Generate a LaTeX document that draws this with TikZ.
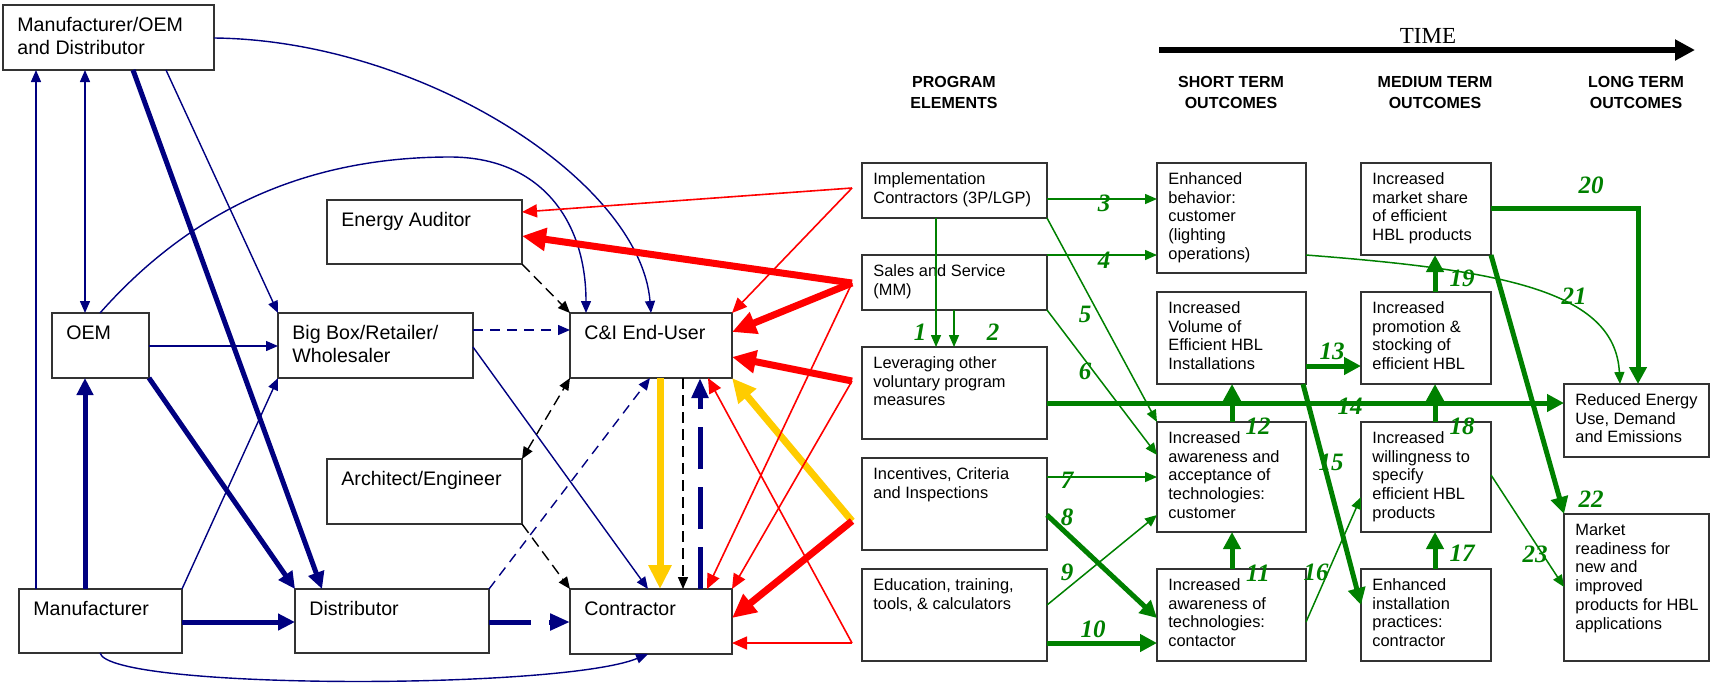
\documentclass[tikz,border=0pt]{standalone}
\usepackage{fontspec}
\setmainfont{Liberation Sans}
\newfontfamily\numfont{Liberation Serif}
\usetikzlibrary{arrows.meta}

\definecolor{navy}{HTML}{000080}
\definecolor{lgreen}{HTML}{008000}
\definecolor{lred}{HTML}{FF0000}
\definecolor{lyellow}{HTML}{FFCC00}

% box: name, x1, y1, x2, y2, text style, text
\newcommand\bx[7]{%
  \node[frame, minimum width={(#4-#2)*0.5pt}, minimum height={(#5-#3)*0.5pt}] (#1) at ({(#2+#4)/2},{(#3+#5)/2}) {};
  \node[#6] (#1-t) at (#1.north west) {#7};
}

\begin{document}
\begin{tikzpicture}[x=0.5pt, y=-0.5pt,
  frame/.style={draw=black!80, line width=0.7pt, fill=white, inner sep=0pt, outer sep=0pt},
  ltxt/.style={anchor=north west, align=left, inner xsep=7pt, inner ysep=6pt, font=\fontsize{9.8}{11.2}\selectfont},
  rtxt/.style={anchor=north west, align=left, inner xsep=5.5pt, inner ysep=4.5pt, font=\fontsize{8.2}{9.4}\selectfont},
  hdr/.style={align=center, font=\bfseries\fontsize{8}{10.5}\selectfont},
  num/.style={text=lgreen, font=\numfont\bfseries\itshape\fontsize{12.5}{14}\selectfont, inner sep=0pt},
  nthin/.style={draw=navy, line width=0.7pt, -{Triangle[length=6pt,width=5pt]}},
  nboth/.style={draw=navy, line width=0.7pt, {Triangle[length=6pt,width=5pt]}-{Triangle[length=6pt,width=5pt]}},
  nthick/.style={draw=navy, line width=2.5pt, -{Triangle[length=8.5pt,width=8pt]}},
  ndash/.style={nthin, dash pattern=on 5pt off 3.5pt},
  nthickdash/.style={draw=navy, line width=2.5pt, dash pattern=on 21pt off 9pt, -{Triangle[length=10pt,width=8pt]}},
  kdash/.style={draw=black, line width=0.7pt, dash pattern=on 5.5pt off 3pt, -{Triangle[length=6pt,width=5pt]}},
  kdashboth/.style={draw=black, line width=0.7pt, dash pattern=on 5.5pt off 3pt, {Triangle[length=6pt,width=5pt]}-{Triangle[length=6pt,width=5pt]}},
  rthin/.style={draw=lred, line width=0.8pt, -{Triangle[length=7.5pt,width=6.5pt]}},
  rthick/.style={draw=lred, line width=3.5pt, -{Triangle[length=12pt,width=11pt]}},
  ythick/.style={draw=lyellow, line width=3.5pt, -{Triangle[length=12pt,width=11pt]}},
  gthin/.style={draw=lgreen, line width=0.75pt, -{Triangle[length=6pt,width=5pt]}},
  gthick/.style={draw=lgreen, line width=2.5pt, -{Triangle[length=8.5pt,width=8.5pt]}},
]
\useasboundingbox (0,0) rectangle (1711,687);

% ---------- market actors ----------
\bx{mod}{3}{5}{214}{70}{ltxt}{Manufacturer/OEM\\and Distributor}
\bx{oem}{52}{313}{149}{378}{ltxt}{OEM}
\bx{bigbox}{278}{313}{473}{378}{ltxt}{Big Box/Retailer/\\Wholesaler}
\bx{auditor}{327}{200}{522}{264}{ltxt}{Energy Auditor}
\bx{archeng}{327}{459}{522}{524}{ltxt}{Architect/Engineer}
\bx{mfr}{19}{589}{182}{653}{ltxt}{Manufacturer}
\bx{distrib}{295}{589}{489}{653}{ltxt}{Distributor}
\bx{enduser}{570}{313}{732}{378}{ltxt}{C\&I End-User}
\bx{contractor}{570}{589}{732}{654}{ltxt}{Contractor}

% ---------- program elements ----------
\bx{impl}{862}{163}{1047}{218}{rtxt}{Implementation\\Contractors (3P/LGP)}
\bx{sales}{862}{255}{1047}{310}{rtxt}{Sales and Service\\(MM)}
\bx{lever}{862}{347}{1047}{439}{rtxt}{Leveraging other\\voluntary program\\measures}
\bx{incent}{862}{458}{1047}{550}{rtxt}{Incentives, Criteria\\and Inspections}
\bx{educ}{862}{569}{1047}{661}{rtxt}{Education, training,\\tools, \& calculators}

% ---------- short term outcomes ----------
\bx{behav}{1157}{163}{1306}{273}{rtxt}{Enhanced\\behavior:\\customer\\(lighting\\operations)}
\bx{volume}{1157}{292}{1306}{384}{rtxt}{Increased\\Volume of\\Efficient HBL\\Installations}
\bx{awcust}{1157}{422}{1306}{532}{rtxt}{Increased\\awareness and\\acceptance of\\technologies:\\customer}
\bx{awcontr}{1157}{569}{1306}{661}{rtxt}{Increased\\awareness of\\technologies:\\contactor}

% ---------- medium term outcomes ----------
\bx{share}{1361}{163}{1491}{255}{rtxt}{Increased\\market share\\of efficient\\HBL products}
\bx{promo}{1361}{292}{1491}{384}{rtxt}{Increased\\promotion \&\\stocking of\\efficient HBL}
\bx{willing}{1361}{422}{1491}{532}{rtxt}{Increased\\willingness to\\specify\\efficient HBL\\products}
\bx{install}{1361}{569}{1491}{661}{rtxt}{Enhanced\\installation\\practices:\\contractor}

% ---------- long term outcomes ----------
\bx{reduced}{1564}{384}{1709}{457}{rtxt}{Reduced Energy\\Use, Demand\\and Emissions}
\bx{ready}{1564}{514}{1709}{661}{rtxt}{Market\\readiness for\\new and\\improved\\products for HBL\\applications}

% ---------- headings and time axis ----------
\node[hdr] (hprog) at (954,92.5) {PROGRAM\\ELEMENTS};
\node[hdr] (hshort) at (1231,92.5) {SHORT TERM\\OUTCOMES};
\node[hdr] (hmed) at (1435,92.5) {MEDIUM TERM\\OUTCOMES};
\node[hdr] (hlong) at (1636,92.5) {LONG TERM\\OUTCOMES};
\node[font=\numfont\fontsize{11.5}{12}\selectfont] (time) at (1428,36) {TIME};
\coordinate (tstart) at (1159,50);
\coordinate (tend) at (1695,50);
\draw[line width=3pt, -{Triangle[length=10pt,width=10pt]}] (tstart) -- (tend);

% ---------- supply chain flows ----------
\draw[nthin] (mfr.north -| 36,0) -- (mod.south -| 36,0);
\draw[nboth] (mod.south -| 85,0) -- (oem.north -| 85,0);
\draw[nthick] (mod.south -| 133,0) -- (distrib.north -| 322,0);
\draw[nthin] (mod.south -| 166,0) -- (bigbox.north west);
\draw[nthin] (mod.east |- 0,38) .. controls (420,40) and (640,180) .. (enduser.north -| 651,0);
\draw[nthin] (oem.north -| 100,0) .. controls (200,200) and (320,157) .. (450,157)
  .. controls (540,157) and (586,220) .. (enduser.north -| 586,0);
\draw[nthin] (oem.east |- 0,346) -- (bigbox.west |- 0,346);
\draw[nthick] (mfr.north -| 85,0) -- (oem.south -| 85,0);
\draw[nthick] (oem.south east) -- (distrib.north west);
\draw[nthin] (mfr.north east) -- (bigbox.south west);
\draw[nthick] (mfr.east |- 0,622) -- (distrib.west |- 0,622);
\draw[nthin] (mfr.south -| 100,0) .. controls (110,690) and (560,690) .. (contractor.south -| 648,0);
\draw[ndash] (bigbox.east |- 0,330) -- (enduser.west |- 0,330);
\draw[nthin] (bigbox.east |- 0,347) -- (contractor.north -| 648,0);
\draw[nthickdash] (distrib.east |- 0,622) -- (contractor.west |- 0,622);
\draw[ndash] (distrib.north east) -- (enduser.south -| 650,0);
\draw[nthickdash] (contractor.north -| 700,0) -- (enduser.south -| 700,0);

% ---------- advice flows ----------
\draw[kdash] (auditor.south east) -- (enduser.north west);
\draw[kdashboth] (archeng.north east) -- (enduser.south west);
\draw[kdash] (archeng.south east) -- (contractor.north west);
\draw[kdash] (enduser.south -| 683,0) -- (contractor.north -| 683,0);
\draw[ythick] (enduser.south -| 660,0) -- (contractor.north -| 660,0);

% ---------- program influence ----------
\coordinate (rImp) at (852,188);
\coordinate (rSal) at (852,283);
\coordinate (rLev) at (852,381);
\coordinate (rInc) at (852,521);
\coordinate (rEdu) at (852,643);
\draw[ythick] (rInc) -- (enduser.south east);
\draw[rthin] (rImp) -- (auditor.east |- 0,212);
\draw[rthin] (rImp) -- (enduser.north east);
\draw[rthick] (rSal) -- (auditor.east |- 0,236);
\draw[rthick] (rSal) -- (enduser.east |- 0,332);
\draw[rthin] (rSal) -- (contractor.north -| 707,0);
\draw[rthick] (rLev) -- (enduser.east |- 0,357);
\draw[rthin] (rLev) -- (contractor.north east);
\draw[rthick] (rInc) -- (contractor.east |- 0,618);
\draw[rthin] (rEdu) -- (contractor.east |- 0,643);
\draw[rthin] (rEdu) -- (enduser.south -| 708,0);

% ---------- logic model links ----------
\draw[gthin] (impl.south -| 936,0) -- (lever.north -| 936,0);
\draw[gthin] (sales.south -| 954,0) -- (lever.north -| 954,0);
\draw[gthin] (impl.east |- 0,199) -- (behav.west |- 0,199);
\draw[gthin] (sales.north east) -- (behav.west |- 0,255);
\draw[gthin] (impl.south east) -- (awcust.north west);
\draw[gthin] (sales.south east) -- (awcust.west |- 0,455);
\draw[gthin] (incent.east |- 0,477) -- (awcust.west |- 0,477);
\draw[gthick] (incent.east |- 0,515) -- (awcontr.west |- 0,618);
\draw[gthin] (educ.east |- 0,605) -- (awcust.west |- 0,515);
\draw[gthick] (educ.east |- 0,643) -- (awcontr.west |- 0,643);
\draw[gthick] (awcontr.north -| 1232,0) -- (awcust.south -| 1232,0);
\draw[gthick] (awcust.north -| 1232,0) -- (volume.south -| 1232,0);
\draw[gthick] (volume.east |- 0,366) -- (promo.west |- 0,366);
\draw[gthick] (lever.east |- 0,403) -- (reduced.west |- 0,403);
\draw[gthick] (volume.south -| 1303,0) -- (install.west |- 0,605);
\draw[gthin] (awcontr.east |- 0,622) -- (willing.west |- 0,497);
\draw[gthick] (install.north -| 1435,0) -- (willing.south -| 1435,0);
\draw[gthick] (willing.north -| 1435,0) -- (promo.south -| 1435,0);
\draw[gthick] (promo.north -| 1435,0) -- (share.south -| 1435,0);
\draw[gthick] (share.east |- 0,208) -| (reduced.north -| 1638,0);
\draw[gthin] (behav.east |- 0,255) .. controls (1500,270) and (1615,290) .. (reduced.north -| 1620,0);
\draw[gthick] (share.south east) -- (ready.north west);
\draw[gthin] (willing.east |- 0,475) -- (ready.west |- 0,587);

% ---------- link numbers ----------
\node[num] (n1) at (920,332) {1};
\node[num] (n2) at (993,332) {2};
\node[num] (n3) at (1104,203) {3};
\node[num] (n4) at (1104,260) {4};
\node[num] (n5) at (1085,314) {5};
\node[num] (n6) at (1085,371) {6};
\node[num] (n7) at (1067,480) {7};
\node[num] (n8) at (1067,517) {8};
\node[num] (n9) at (1067,572) {9};
\node[num] (n10) at (1093,629) {10};
\node[num] (n11) at (1258,573) {11};
\node[num] (n12) at (1258,426) {12};
\node[num] (n13) at (1332,351) {13};
\node[num] (n14) at (1350,406) {14};
\node[num] (n15) at (1331,462) {15};
\node[num] (n16) at (1316,572) {16};
\node[num] (n17) at (1462,553) {17};
\node[num] (n18) at (1462,426) {18};
\node[num] (n19) at (1462,278) {19};
\node[num] (n20) at (1591,185) {20};
\node[num] (n21) at (1574,296) {21};
\node[num] (n22) at (1591,499) {22};
\node[num] (n23) at (1535,554) {23};
\end{tikzpicture}
\end{document}
